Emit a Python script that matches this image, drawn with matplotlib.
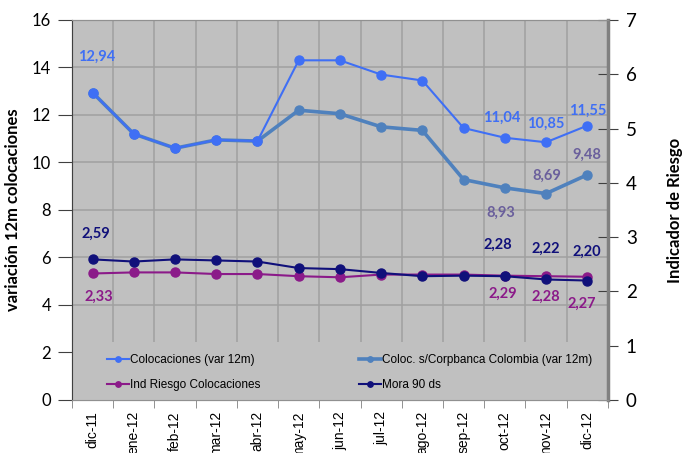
import matplotlib; matplotlib.use('Agg')  # noqa: E702
import matplotlib.pyplot as plt
from matplotlib.patches import Rectangle

MONTHS = ['dic-11', 'ene-12', 'feb-12', 'mar-12', 'abr-12', 'may-12', 'jun-12',
          'jul-12', 'ago-12', 'sep-12', 'oct-12', 'nov-12', 'dic-12']
COLOC = [12.94, 11.20, 10.60, 10.95, 10.90, 14.30, 14.30, 13.70, 13.45, 11.45, 11.04, 10.85, 11.55]
COLOC_SC = [12.94, 11.20, 10.60, 10.95, 10.90, 12.20, 12.05, 11.50, 11.35, 9.28, 8.93, 8.69, 9.48]
IND_RIESGO = [2.33, 2.35, 2.35, 2.32, 2.32, 2.28, 2.26, 2.31, 2.31, 2.31, 2.29, 2.28, 2.27]
MORA = [2.59, 2.55, 2.59, 2.57, 2.55, 2.43, 2.41, 2.34, 2.28, 2.29, 2.28, 2.22, 2.20]

C_COLOC = '#3f6ff5'
C_SC = '#4f81bd'
C_SC_TXT = '#6a5f9c'
C_IND = '#8b1a89'
C_MORA = '#10107a'

x = list(range(len(MONTHS)))

fig = plt.figure(figsize=(6.87, 4.53), dpi=100)
ax = fig.add_axes([0.1048, 0.117, 0.780, 0.839])
ax.set_facecolor('#c0c0c0')
ax2 = ax.twinx()

ax.plot(x, COLOC_SC, color=C_SC, lw=2.6, marker='o', ms=6.5, zorder=3,
        label='Coloc. s/Corpbanca Colombia (var 12m)')
ax.plot(x, COLOC, color=C_COLOC, lw=1.5, marker='o', ms=6.5, zorder=4,
        label='Colocaciones (var 12m)')
ax2.plot(x, IND_RIESGO, color=C_IND, lw=1.5, marker='o', ms=6.5, zorder=3,
         label='Ind Riesgo Colocaciones')
ax2.plot(x, MORA, color=C_MORA, lw=1.5, marker='o', ms=6.5, zorder=4,
         label='Mora 90 ds')

ax.set_xlim(-0.5, len(MONTHS) - 0.5)
ax.set_ylim(0, 16)
ax2.set_ylim(0, 7)
ax.set_yticks(range(0, 17, 2))
ax2.set_yticks(range(0, 8))

# vertical grid at category boundaries
bounds = [i - 0.5 for i in range(len(MONTHS) + 1)]
ax.set_xticks(bounds, minor=True)
ax.set_xticks(x)
ax.set_xticklabels(MONTHS, rotation=90, fontsize=10, family='Liberation Sans')
ax.tick_params(axis='x', which='major', length=0, pad=8)
ax.tick_params(axis='x', which='minor', length=6, color='#808080')
ax.grid(True, which='minor', axis='x', color='#a0a0a0', lw=1.1)
ax.grid(True, which='major', axis='y', color='#a0a0a0', lw=1.1)
ax.set_axisbelow(True)

ax.tick_params(axis='y', length=10, color='#404040', labelsize=12, pad=5)
ax2.tick_params(axis='y', direction='inout', length=14, color='#404040', labelsize=13.5, pad=6)
for lab in ax.get_yticklabels() + ax2.get_yticklabels():
    lab.set_family('Lato')

for sp in ax.spines.values():
    sp.set_color('#909090')
ax2.spines['right'].set_color('#808080')
ax2.spines['right'].set_linewidth(2.5)
ax2.spines['left'].set_color('#404040')
ax2.spines['top'].set_color('#909090')
ax2.spines['bottom'].set_color('#909090')
for sp in ax2.spines.values():
    sp.set_zorder(7)

ax.set_ylabel('variación 12m colocaciones', fontsize=12, fontweight='bold',
              family='Lato', labelpad=8)
ax2.set_ylabel('Indicador de Riesgo', fontsize=12, fontweight='bold',
               family='Lato', labelpad=22)


def lbl(axis, i, val, color, dx, dy):
    axis.annotate(f'{val:.2f}'.replace('.', ','), (x[i], val), xytext=(dx, dy),
                  textcoords='offset pixels', ha='center', va='center', color=color,
                  fontsize=10.5, fontweight='bold', family='Lato', zorder=6)


lbl(ax, 0, COLOC[0], C_COLOC, 4, 36)
lbl(ax, 10, COLOC[10], C_COLOC, -3, 20)
lbl(ax, 11, COLOC[11], C_COLOC, 0, 18)
lbl(ax, 12, COLOC[12], C_COLOC, 0, 15)
lbl(ax, 10, COLOC_SC[10], C_SC_TXT, -4, -25)
lbl(ax, 11, COLOC_SC[11], C_SC_TXT, 1, 18)
lbl(ax, 12, COLOC_SC[12], C_SC_TXT, 0, 20)
lbl(ax2, 0, MORA[0], C_MORA, 3, 26)
lbl(ax2, 10, MORA[10], C_MORA, -7, 31)
lbl(ax2, 11, MORA[11], C_MORA, 0, 31)
lbl(ax2, 12, MORA[12], C_MORA, 0, 29)
lbl(ax2, 0, IND_RIESGO[0], C_IND, 6, -23)
lbl(ax2, 10, IND_RIESGO[10], C_IND, -2, -18)
lbl(ax2, 11, IND_RIESGO[11], C_IND, 0, -21)
lbl(ax2, 12, IND_RIESGO[12], C_IND, -5, -27)

# legend area covers the grid
ax2.add_patch(Rectangle((0, 0), 1, 0.152, transform=ax2.transAxes,
                        facecolor='#c0c0c0', edgecolor='none', zorder=5))
h1, l1 = ax.get_legend_handles_labels()
h2, l2 = ax2.get_legend_handles_labels()
leg_kw = dict(frameon=False, handlelength=1.9, handletextpad=0.1,
              labelspacing=1.15, markerscale=0.6, prop={'family': 'Liberation Sans', 'size': 8.5})
leg1 = ax2.legend([h1[1], h2[0]], [l1[1], l2[0]], loc='lower left',
                  bbox_to_anchor=(0.045, -0.005), **leg_kw)
leg1.set_zorder(6)
ax2.add_artist(leg1)
leg2 = ax2.legend([h1[0], h2[1]], [l1[0], l2[1]], loc='lower left',
                  bbox_to_anchor=(0.515, -0.005), **leg_kw)
leg2.set_zorder(6)

fig.savefig('out.png', dpi=100)
